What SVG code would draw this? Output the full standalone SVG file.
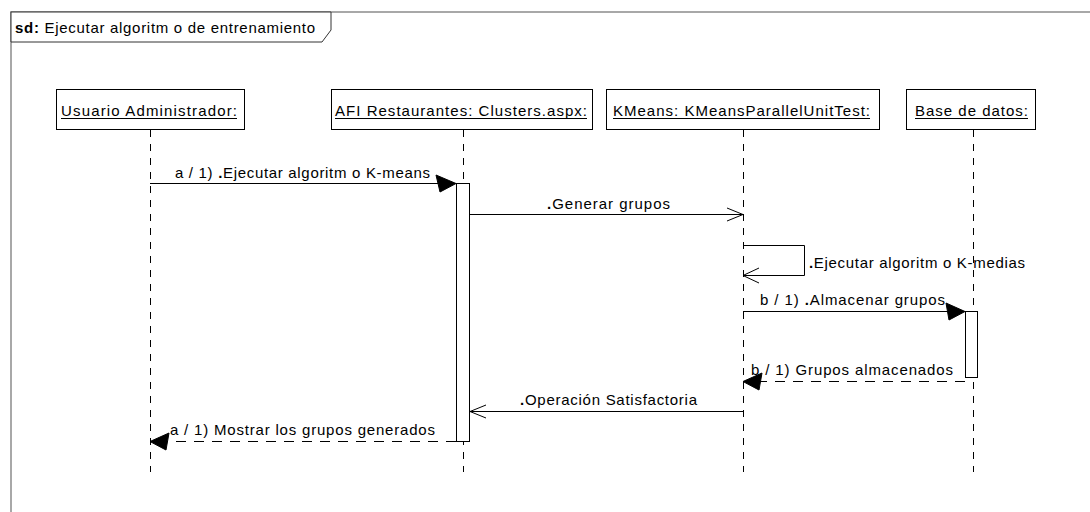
<svg xmlns="http://www.w3.org/2000/svg" width="1090" height="512" viewBox="0 0 1090 512">
  <defs>
    <style>
      .frame { fill: none; stroke: #a8a8a8; stroke-width: 2; }
      .tab { fill: #ffffff; stroke: #333333; stroke-width: 1; }
      .txt { font-family: "Liberation Sans", Arial, sans-serif; font-size: 15px; fill: #000000; }
      .bold { font-weight: bold; }
      .head { fill: #ffffff; stroke: #000000; stroke-width: 1; }
      .uline { stroke: #000000; stroke-width: 1; }
      .life { stroke: #000000; stroke-width: 1; stroke-dasharray: 7 7; fill: none; }
      .act { fill: #ffffff; stroke: #000000; stroke-width: 1; }
      .msg { stroke: #000000; stroke-width: 1; fill: none; }
      .ret { stroke: #000000; stroke-width: 1; fill: none; stroke-dasharray: 10 8; }
      .open { stroke: #000000; stroke-width: 1; fill: none; }
      .filled { fill: #000000; stroke: #000000; stroke-width: 1; }
    </style>
  </defs>

  <rect width="1090" height="512" fill="#ffffff"/>

  <!-- interaction frame -->
  <g id="frame">
    <polyline class="frame" points="1090,12 11,12 11,512"/>
    <path class="tab" d="M11,12 H331 V30 L322,42 H11 Z"/>
    <text class="txt" x="15" y="33" textLength="300" lengthAdjust="spacing"><tspan class="bold">sd:</tspan> Ejecutar algoritm o de entrenamiento</text>
  </g>

  <!-- lifelines -->
  <g id="usuario">
    <rect class="head" x="56.5" y="89.5" width="188" height="40"/>
    <text class="txt" x="61" y="116" textLength="176" lengthAdjust="spacing">Usuario Administrador:</text>
    <line class="uline" x1="61" y1="118.5" x2="237" y2="118.5"/>
    <line class="life" x1="150.5" y1="130" x2="150.5" y2="472"/>
  </g>

  <g id="clusters">
    <rect class="head" x="331.5" y="89.5" width="261" height="40"/>
    <text class="txt" x="335" y="116" textLength="252" lengthAdjust="spacing">AFI Restaurantes: Clusters.aspx:</text>
    <line class="uline" x1="335" y1="118.5" x2="587" y2="118.5"/>
    <line class="life" x1="463.5" y1="130" x2="463.5" y2="472"/>
    <rect class="act" x="456.5" y="183.5" width="13" height="258"/>
  </g>

  <g id="kmeans">
    <rect class="head" x="606.5" y="89.5" width="273" height="40"/>
    <text class="txt" x="613" y="116" textLength="257" lengthAdjust="spacing">KMeans: KMeansParallelUnitTest:</text>
    <line class="uline" x1="613" y1="118.5" x2="870" y2="118.5"/>
    <line class="life" x1="743.5" y1="130" x2="743.5" y2="472"/>
  </g>

  <g id="basedatos">
    <rect class="head" x="906.5" y="89.5" width="129" height="40"/>
    <text class="txt" x="915" y="116" textLength="113" lengthAdjust="spacing">Base de datos:</text>
    <line class="uline" x1="915" y1="118.5" x2="1028" y2="118.5"/>
    <line class="life" x1="973.5" y1="130" x2="973.5" y2="472"/>
    <rect class="act" x="965.5" y="311.5" width="12" height="66"/>
  </g>

  <!-- messages -->
  <g id="connectors">
    <!-- a / 1) Ejecutar algoritmo K-means -->
    <line class="msg" x1="150" y1="183.5" x2="440" y2="183.5"/>
    <polygon class="filled" points="456,183.5 436,175 440,192"/>
    <text class="txt" x="175" y="178" textLength="255" lengthAdjust="spacing">a / 1) <tspan class="bold">.</tspan>Ejecutar algoritm o K-means</text>

    <!-- Generar grupos -->
    <line class="msg" x1="470" y1="214.5" x2="743" y2="214.5"/>
    <polyline class="open" points="727,208 743,214.5 727,221"/>
    <text class="txt" x="547" y="209" textLength="123" lengthAdjust="spacing"><tspan class="bold">.</tspan>Generar grupos</text>

    <!-- self call: Ejecutar algoritmo K-medias -->
    <polyline class="msg" points="743,245.5 804.5,245.5 804.5,275.5 743,275.5"/>
    <polyline class="open" points="759,268 743,275.5 759,283"/>
    <text class="txt" x="809" y="268" textLength="216" lengthAdjust="spacing"><tspan class="bold">.</tspan>Ejecutar algoritm o K-medias</text>

    <!-- b / 1) Almacenar grupos -->
    <line class="msg" x1="743" y1="311.5" x2="950" y2="311.5"/>
    <polygon class="filled" points="965,311.5 946,303 949,320"/>
    <text class="txt" x="760" y="305" textLength="185" lengthAdjust="spacing">b / 1) <tspan class="bold">.</tspan>Almacenar grupos</text>

    <!-- b / 1) Grupos almacenados (return) -->
    <line class="ret" x1="965" y1="381.5" x2="759" y2="381.5"/>
    <polygon class="filled" points="743,381.5 762,373 759,390"/>
    <text class="txt" x="751" y="375" textLength="202" lengthAdjust="spacing">b / 1) Grupos almacenados</text>

    <!-- Operacion Satisfactoria -->
    <line class="msg" x1="743" y1="411.5" x2="470" y2="411.5"/>
    <polyline class="open" points="486,405 470,411.5 486,418"/>
    <text class="txt" x="520" y="405" textLength="177" lengthAdjust="spacing"><tspan class="bold">.</tspan>Operación Satisfactoria</text>

    <!-- a / 1) Mostrar los grupos generados (return) -->
    <line class="ret" x1="456" y1="441.5" x2="166" y2="441.5"/>
    <polygon class="filled" points="150,441.5 169,433 166,450"/>
    <text class="txt" x="170" y="435" textLength="265" lengthAdjust="spacing">a / 1) Mostrar los grupos generados</text>
  </g>
</svg>
